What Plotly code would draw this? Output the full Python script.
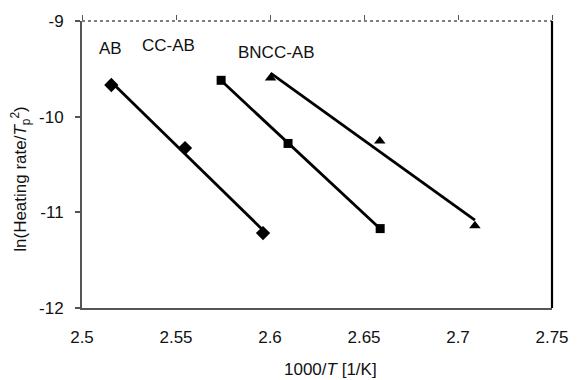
import numpy as np
import plotly.graph_objects as go

# Data
ab_x = [2.5156, 2.5548, 2.5963]
ab_y = [-9.669, -10.328, -11.217]
cc_x = [2.5740, 2.6096, 2.6586]
cc_y = [-9.620, -10.280, -11.170]
bn_x = [2.6003, 2.6584, 2.7090]
bn_y = [-9.596, -10.255, -11.140]

series_labels = ["AB", "CC-AB", "BNCC-AB"]
x_ticks = [2.5, 2.55, 2.6, 2.65, 2.7, 2.75]
x_tick_text = ["2.5", "2.55", "2.6", "2.65", "2.7", "2.75"]
y_ticks = [-12, -11, -10, -9]
y_tick_text = ["-12", "-11", "-10", "-9"]

FONT = "Liberation Sans, Arial, sans-serif"
TXT = "#111111"
FS = 17

fig = go.Figure()

series = [(ab_x, ab_y, "diamond", 11), (cc_x, cc_y, "square", 9), (bn_x, bn_y, "triangle-up", 10)]
for xs, ys, sym, sz in series:
    xs_a = np.array(xs)
    ys_a = np.array(ys)
    k, b = np.polyfit(xs_a, ys_a, 1)
    lx = np.array([xs_a.min(), xs_a.max()])
    fig.add_trace(go.Scatter(x=lx, y=k * lx + b, mode="lines",
                             line=dict(color="black", width=2.8),
                             showlegend=False, hoverinfo="skip"))
    fig.add_trace(go.Scatter(x=xs, y=ys, mode="markers",
                             marker=dict(symbol=sym, size=sz, color="black"),
                             showlegend=False))

# invisible trace to activate top axis
fig.add_trace(go.Scatter(x=[2.5], y=[-12], xaxis="x2", mode="markers",
                         marker=dict(opacity=0), showlegend=False, hoverinfo="skip"))

label_pos = [(2.5150, -9.29), (2.5458, -9.255), (2.6033, -9.325)]
for name, (lx, ly) in zip(series_labels, label_pos):
    fig.add_annotation(x=lx, y=ly, text=name, showarrow=False,
                       xanchor="center", yanchor="middle",
                       font=dict(family=FONT, size=FS, color=TXT))

fig.add_annotation(xref="paper", yref="paper", x=-0.13, y=0.45,
                   xanchor="center", yanchor="middle",
                   text="ln(Heating rate/<i>T</i><sub>p</sub><sup>2</sup>)",
                   textangle=-90, showarrow=False,
                   font=dict(family=FONT, size=FS, color=TXT))
fig.add_annotation(xref="paper", yref="paper", x=0.529, y=-0.216,
                   xanchor="center", yanchor="middle",
                   text="1000/<i>T</i> [1/K]", showarrow=False,
                   font=dict(family=FONT, size=FS, color=TXT))

# top dotted border and right solid border
fig.add_shape(type="line", xref="paper", yref="paper", x0=0, x1=1, y0=1, y1=1,
              line=dict(color="#555555", width=1.5, dash="dot"))
fig.add_shape(type="line", xref="paper", yref="paper", x0=1, x1=1, y0=0, y1=1,
              line=dict(color="black", width=2.2))

fig.update_layout(
    width=581, height=380,
    margin=dict(l=82, r=17, t=19, b=72),
    paper_bgcolor="white", plot_bgcolor="white",
    font=dict(family=FONT, size=FS, color=TXT),
    xaxis=dict(range=[2.5, 2.75], tickvals=x_ticks, ticktext=x_tick_text,
               showgrid=False, zeroline=False, showline=True,
               linecolor="#555555", linewidth=2, ticks="",
               ticklabelstandoff=13, tickfont=dict(size=FS)),
    xaxis2=dict(range=[2.5, 2.75], overlaying="x", side="top",
                tickvals=x_ticks, showticklabels=False, ticks="outside",
                ticklen=5, tickcolor="#555555", tickwidth=1,
                showgrid=False, zeroline=False, showline=False),
    yaxis=dict(range=[-12, -9], tickvals=y_ticks, ticktext=y_tick_text,
               showgrid=False, zeroline=False, showline=True,
               linecolor="#555555", linewidth=2, ticks="outside",
               ticklen=5, tickcolor="#555555", tickwidth=1.5,
               ticklabelstandoff=8, tickfont=dict(size=FS)),
)

fig.write_html("out.html")
